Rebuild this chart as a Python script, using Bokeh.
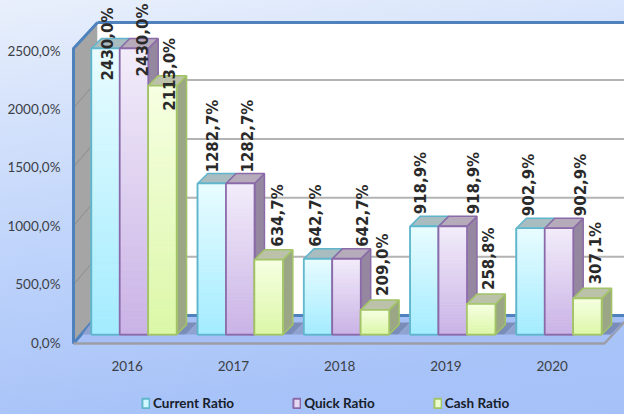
from bokeh.plotting import figure
from bokeh.models import Range1d, LinearAxis, FixedTicker, NumeralTickFormatter, Legend, LegendItem, ColumnDataSource
from bokeh.core.properties import value
from bokeh.embed import file_html
from bokeh.resources import INLINE

years = [2016, 2017, 2018, 2019, 2020]
current_ratio = [2430.0, 1282.7, 642.7, 918.9, 902.9]
quick_ratio = [2430.0, 1282.7, 642.7, 918.9, 902.9]
cash_ratio = [2113.0, 634.7, 209.0, 258.8, 307.1]
series_names = ["Current Ratio", "Quick Ratio", "Cash Ratio"]
y_ticks = [0, 500, 1000, 1500, 2000, 2500]
y_tick_labels = ["0,0%", "500,0%", "1000,0%", "1500,0%", "2000,0%", "2500,0%"]

# layout (pixels of the page)
W, H = 624, 414
FL = 62
G0, GS = 133.5, 106.25      # first group centre, group spacing
Y0, YS = 334.0, 0.1177      # bar baseline, px per unit
BAR = 28.4 / GS
DX, DY = 10 / GS, 10 / YS   # bar depth
def X(px): return years[0] + (px - G0) / GS
def Y(px): return (Y0 - px) / YS

p = figure(width=W, height=H, output_backend="svg", toolbar_location=None,
           x_range=Range1d(X(FL), X(W)), y_range=Range1d(Y(H), Y(0)),
           x_axis_location=None, y_axis_location=None,
           min_border_left=FL, min_border_right=0, min_border_top=0, min_border_bottom=0)
p.grid.visible = False
p.outline_line_color = None
p.background_fill_color = None
p.border_fill_color = None
p.styles = {"position": "fixed", "left": "0", "top": "0",
            "background": "linear-gradient(172deg,#e9f0fc 0%,#d3e1fb 25%,#bcd2fb 55%,#a8c3f8 85%,#a6c1f7 100%)"}

p.extra_y_ranges["axis"] = Range1d((342 - H) / 0.1168, 342 / 0.1168)
p.extra_x_ranges["axis"] = Range1d(X(FL + 6.8), X(W + 6.8))
ya = LinearAxis(y_range_name="axis", ticker=FixedTicker(ticks=y_ticks),
                major_label_overrides=dict(zip(y_ticks, y_tick_labels)))
xa = LinearAxis(x_range_name="axis", ticker=FixedTicker(ticks=years),
                formatter=NumeralTickFormatter(format="0"), fixed_location=Y(346))
for a, size in ((ya, "13.5px"), (xa, "13.5px")):
    a.axis_line_color = None
    a.major_tick_line_color = None
    a.minor_tick_line_color = None
    a.major_tick_out = 0
    a.major_tick_in = 0
    a.major_label_text_font = "Lato"
    a.major_label_text_font_size = size
    a.major_label_text_color = "#3c3f46"
ya.major_label_standoff = 2
xa.major_label_standoff = 14
p.add_layout(ya, "left")
p.add_layout(xa, "below")

# walls and floor
by = 161.4     # back wall offset from the bars' baseline
wl, wr = X(97), X(W + 10)
wy0, wy1 = Y(315), Y(22)
p.patch([X(73), X(97), X(97), X(73)], [Y(48), Y(22), Y(315), Y(343)], fill_color="#a5a5a5", line_color=None)
p.quad(left=[wl], right=[wr], bottom=[wy0], top=[wy1], fill_color="white", line_color=None)
p.patch([X(73), X(604), X(630), X(97)], [Y(343), Y(343), Y(315), Y(315)], fill_color="#a6bff4", line_color=None)

# gridlines on back and left walls
for t in y_ticks[1:-1]:
    yy = t + by
    p.line([wl, wr], [yy, yy], line_color="#b3b3b3", line_width=2)
    p.line([X(73), X(97)], [yy - 28 / YS, yy], line_color="#8c8c8c", line_width=1)

# edges
p.line([X(97), wr], [wy1, wy1], line_color="#4f81bd", line_width=3)
p.line([wl, wr], [wy0, wy0], line_color="#4f81bd", line_width=3)
p.line([X(97), X(73), X(73), X(97)], [Y(22), Y(48), Y(343), Y(315)], line_color="#4f81bd", line_width=3)
p.line([X(73), X(604), X(630)], [Y(343), Y(343), Y(315)], line_color="#9c9ea6", line_width=2.5)

# floor shadows around each group
top_s = Y(322)
for yr in years:
    l, r = yr - 1.5 * BAR, yr + 1.5 * BAR
    p.patch([l - 9 / GS, l, l], [0, top_s, 0], fill_color="#8ea1cf", line_color=None)
    p.patch([r, r + 10 / GS, r + 21 / GS, r + 9 / GS], [0, top_s, top_s, 0], fill_color="#7a8db8", line_color=None)
    p.patch([r + 9 / GS, r + 21 / GS, r + 12 / GS], [0, top_s, 0], fill_color="#8ea1cf", line_color=None)

styles = [
    ("#e8fcff", "#a4ecff", "#5fb5cb", "#a9bcc0", "#8f9fa8"),
    ("#f2ecfa", "#cab3e6", "#8a6aa8", "#b6abba", "#94879f"),
    ("#f6ffe2", "#dcf7a8", "#a2c466", "#bcc2aa", "#9ba686"),
]
N = 36
def mix(a, b, t):
    ca = [int(a[i:i + 2], 16) for i in (1, 3, 5)]
    cb = [int(b[i:i + 2], 16) for i in (1, 3, 5)]
    return "#%02x%02x%02x" % tuple(round(u + (v - u) * t) for u, v in zip(ca, cb))

all_series = [current_ratio, quick_ratio, cash_ratio]
legend_items = []
for k, (vals, st, name) in enumerate(zip(all_series, styles, series_names)):
    top_c, bot_c, edge, topf, sidef = st
    lefts = [yr + (k - 1.5) * BAR for yr in years]
    rights = [l + BAR for l in lefts]
    p.patches([[r, r + DX, r + DX, r] for r in rights],
              [[0, DY, v + DY, v] for v in vals],
              fill_color=sidef, line_color=edge, line_width=1.5)
    p.patches([[l, l + DX, r + DX, r] for l, r in zip(lefts, rights)],
              [[v, v + DY, v + DY, v] for v in vals],
              fill_color=topf, line_color=edge, line_width=1.5)
    base = p.quad(left=lefts, right=rights, bottom=0, top=vals, fill_color=mix(top_c, bot_c, 0.35),
                  line_color=edge, line_width=2)
    legend_items.append(LegendItem(label=name, renderers=[base], index=0))
    L, R, B, T, C = [], [], [], [], []
    for l, r, v in zip(lefts, rights, vals):
        for i in range(N):
            L.append(l); R.append(r)
            B.append(v * i / N); T.append(v * (i + 1) / N)
            C.append(mix(bot_c, top_c, i / (N - 1)))
    p.quad(left=L, right=R, bottom=B, top=T, fill_color=C, line_color=C, line_width=0.6)
    p.quad(left=lefts, right=rights, bottom=0, top=vals, fill_color=None, line_color=edge, line_width=1.6)

# data labels: offsets in pixels from the top centre of each bar
label_dx = [[2, 1, -2, -3, -2], [9, 8, 16, 21, 22], [8, 9, 8, 8, 9]]
label_dy = [[32, -11, -12, -12, -12], [28, -11, -12, -12, -12], [25, -13, -14, -14, -14]]
for k, vals in enumerate(all_series):
    src = ColumnDataSource(dict(
        x=[yr + (k - 1) * BAR for yr in years], y=vals,
        t=[f"{v:.1f}%".replace(".", ",") for v in vals],
        dx=label_dx[k], dy=label_dy[k]))
    p.text(x="x", y="y", text="t", x_offset="dx", y_offset="dy", angle=90, angle_units="deg", source=src,
           text_align="left", text_baseline="middle", text_font=value("DejaVu Sans"),
           text_font_style="bold", text_font_size="15px", text_color="#2a2a2a")

lg = Legend(items=legend_items, location=(79, 3), orientation="horizontal",
            background_fill_alpha=0, border_line_color=None, glyph_width=9, glyph_height=12,
            label_standoff=3, spacing=58, padding=0, margin=0,
            label_text_font="Lato", label_text_font_size="13.5px",
            label_text_color="#17202a", label_text_font_style="bold")
p.add_layout(lg, "center")

open("out.html", "w").write(file_html(p, INLINE))
